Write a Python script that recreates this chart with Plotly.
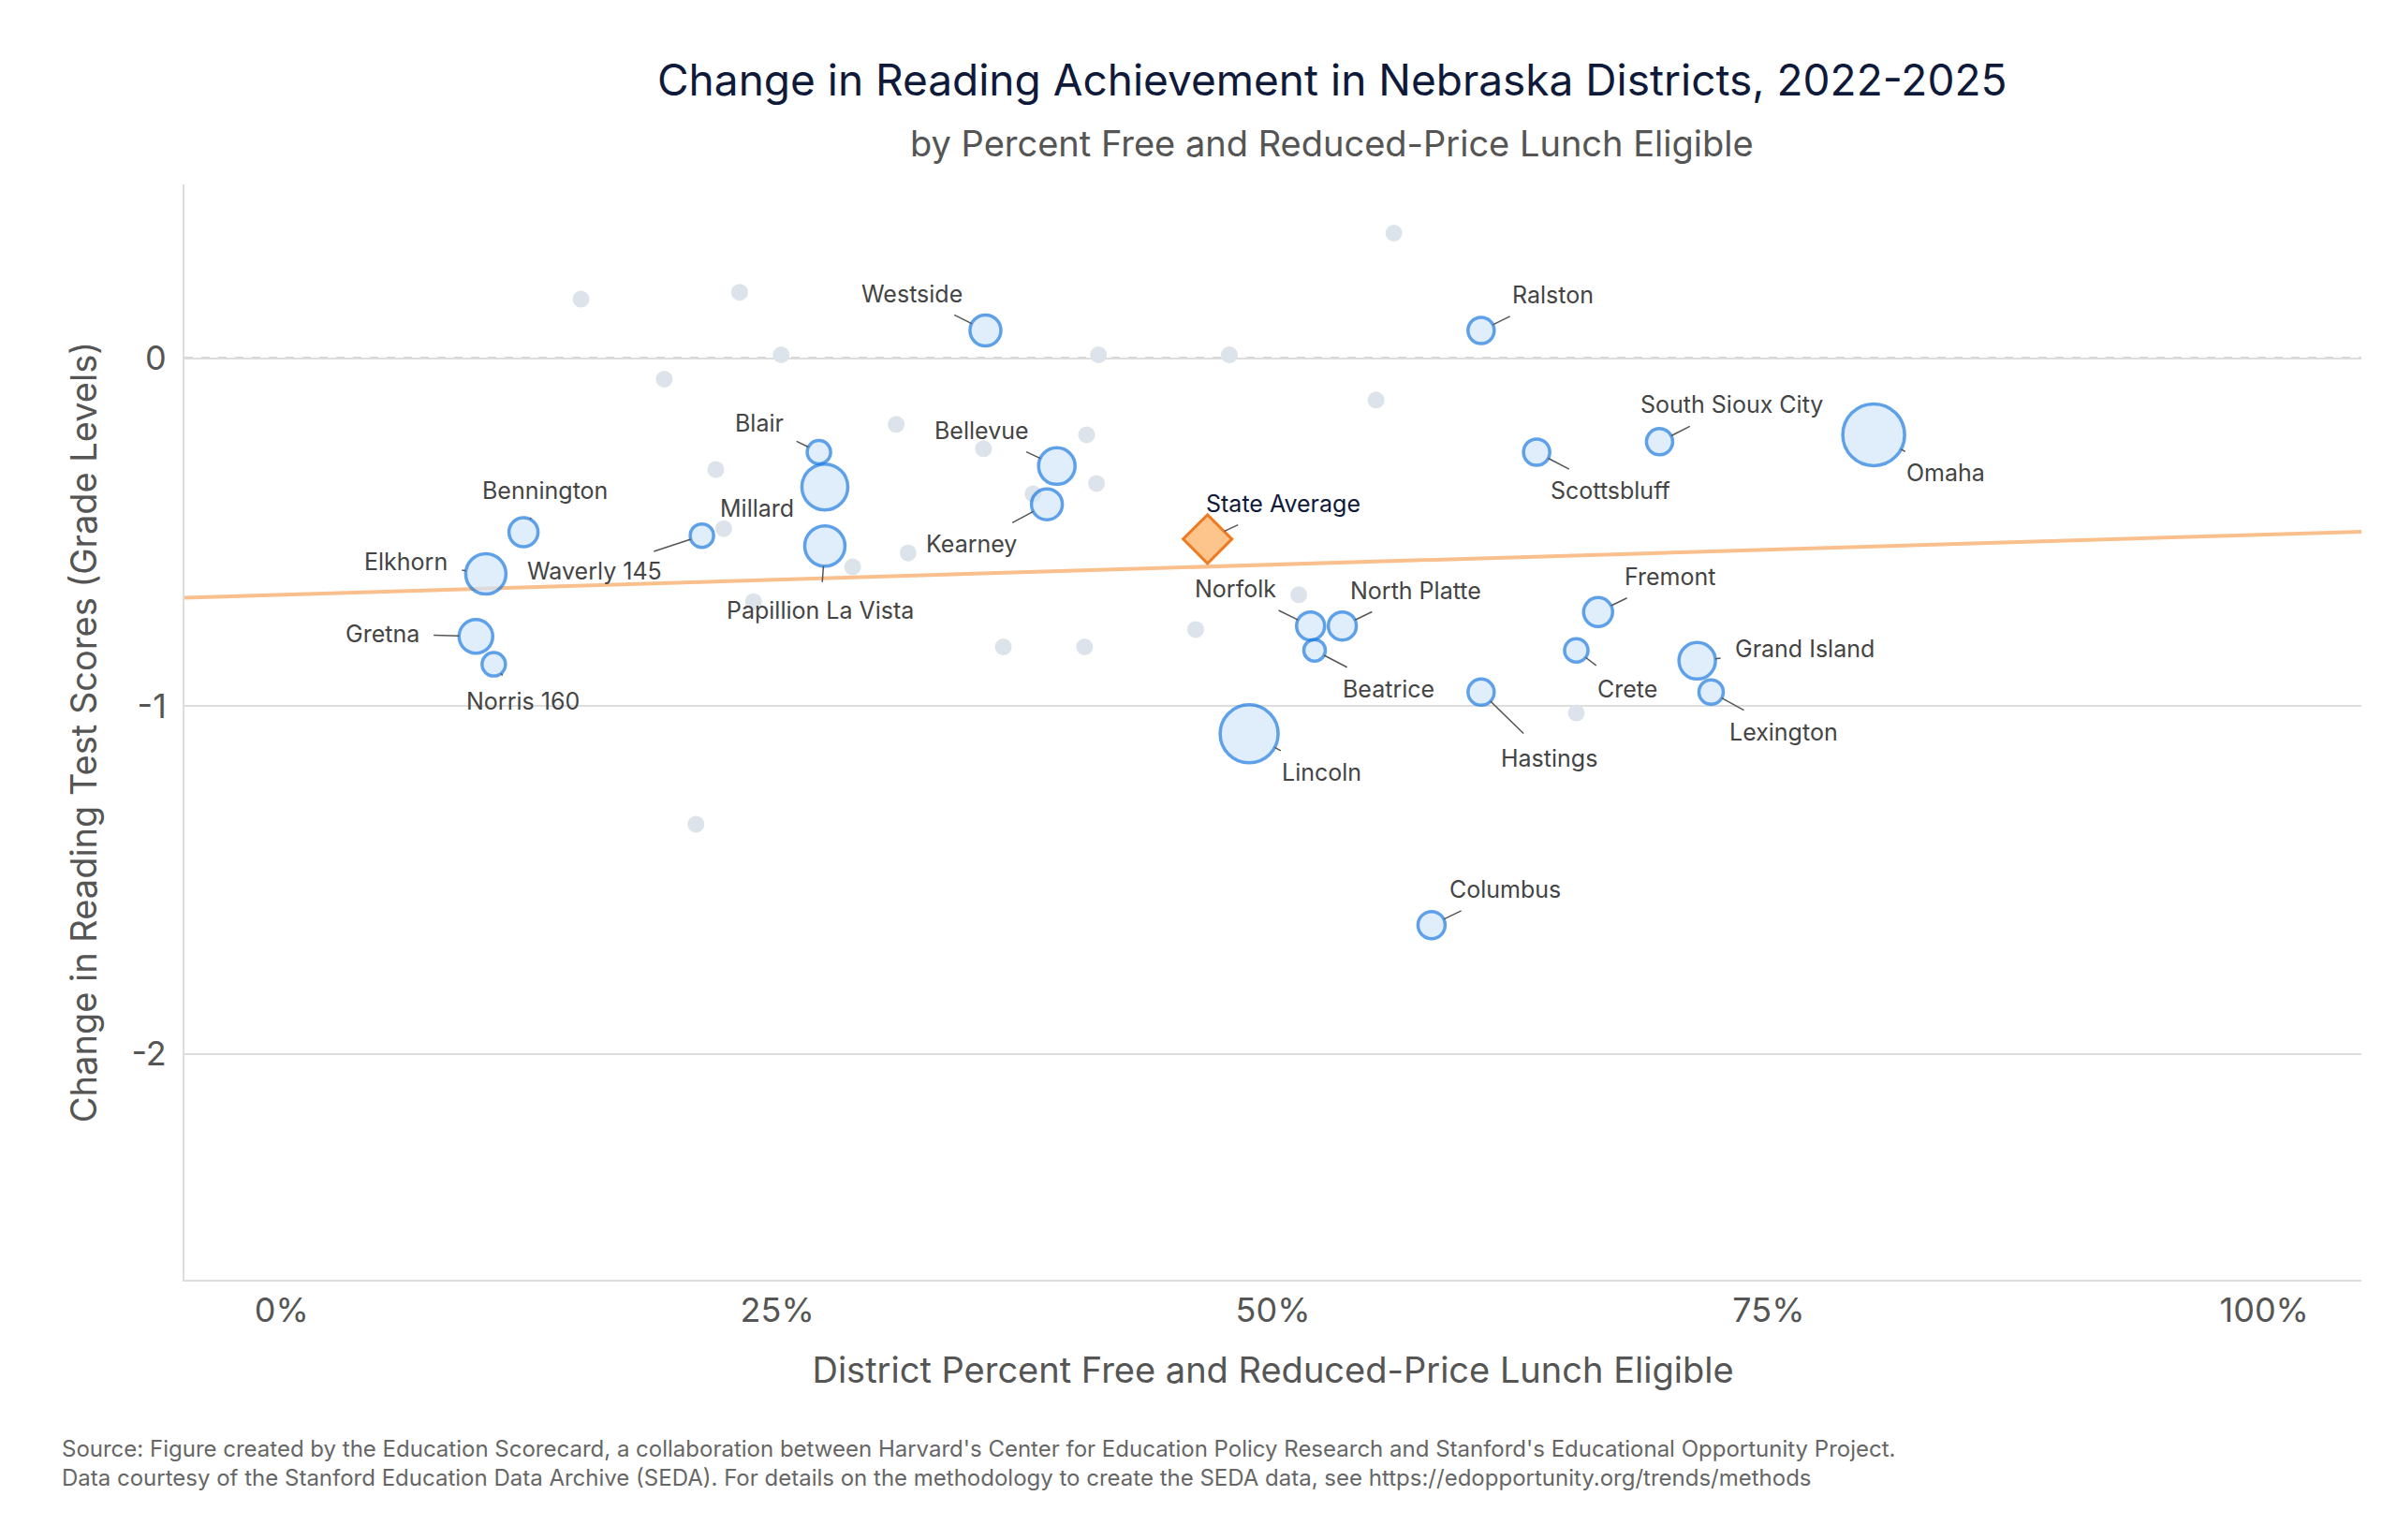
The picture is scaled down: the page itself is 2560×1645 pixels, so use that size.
import plotly.graph_objects as go

# other districts (grey)
other_frl = [15.1, 23.1, 25.2, 19.3, 41.2, 47.8, 56.1, 55.2, 31.0, 40.6, 35.4, 21.9,
             41.1, 37.9, 22.3, 31.6, 28.8, 23.8, 36.4, 40.5, 46.1, 51.3, 65.3, 20.9]
other_change = [0.17, 0.19, 0.01, -0.06, 0.01, 0.01, 0.36, -0.12, -0.19, -0.22, -0.26, -0.32,
                -0.36, -0.39, -0.49, -0.56, -0.60, -0.70, -0.83, -0.83, -0.78, -0.68, -1.02, -1.34]

# named districts
names = ["Westside", "Ralston", "Blair", "Millard", "Bellevue", "Kearney", "Bennington",
         "Waverly 145", "Papillion La Vista", "Elkhorn", "Gretna", "Norris 160", "Scottsbluff",
         "South Sioux City", "Omaha", "Norfolk", "North Platte", "Beatrice", "Fremont", "Crete",
         "Grand Island", "Lexington", "Hastings", "Lincoln", "Columbus"]
frl = [35.5, 60.5, 27.1, 27.4, 39.1, 38.6, 12.2, 21.2, 27.4, 10.3, 9.8, 10.7, 63.3,
       69.5, 80.3, 51.9, 53.5, 52.1, 66.4, 65.3, 71.4, 72.1, 60.5, 48.8, 58.0]
change = [0.08, 0.08, -0.27, -0.37, -0.31, -0.42, -0.50, -0.51, -0.54, -0.62, -0.80, -0.88, -0.27,
          -0.24, -0.22, -0.77, -0.77, -0.84, -0.73, -0.84, -0.87, -0.96, -0.96, -1.08, -1.63]
enroll_size = [33, 28, 25, 49, 39, 33, 31, 25, 43, 43, 36, 25, 28,
               28, 66, 30, 30, 23, 31, 25, 39, 26, 28, 62, 29]

state_frl = [46.7]
state_change = [-0.52]

trend_x = [-5, 105]
trend_intercept = -0.68
trend_slope = 0.00173

# label offsets (display px, scaled below)
offsets = {
    "Westside": (-48, -24), "Ralston": (47, -23), "Blair": (-39, -19), "Millard": (-44, 14),
    "Bellevue": (-49, -23), "Kearney": (-49, 26), "Bennington": (14, -27), "Waverly 145": (-70, 23),
    "Papillion La Vista": (-3, 42), "Elkhorn": (-52, -8), "Gretna": (-61, -2), "Norris 160": (19, 24),
    "Scottsbluff": (48, 25), "South Sioux City": (47, -24), "Omaha": (47, 25), "Norfolk": (-49, -24),
    "North Platte": (48, -23), "Beatrice": (48, 25), "Fremont": (47, -23), "Crete": (33, 25),
    "Grand Island": (70, -8), "Lexington": (47, 26), "Hastings": (44, 43), "Lincoln": (47, 25),
    "Columbus": (48, -23),
}
S = 1.641
FONT = "Inter"

fig = go.Figure()
fig.add_trace(go.Scatter(x=other_frl, y=other_change, mode="markers",
                         marker=dict(size=18, color="#dde3ea", line=dict(width=0)), hoverinfo="skip"))
fig.add_trace(go.Scatter(x=trend_x, y=[trend_intercept + trend_slope * v for v in trend_x], mode="lines",
                         line=dict(color="#f9c08e", width=4), hoverinfo="skip"))
fig.add_trace(go.Scatter(x=frl, y=change, mode="markers", text=names,
                         marker=dict(size=enroll_size, color="#d3e6fa", line=dict(color="#1b7ae0", width=3.5))))
fig.add_trace(go.Scatter(x=state_frl, y=state_change, mode="markers",
                         marker=dict(symbol="diamond", size=40, color="#fdc48c",
                                     line=dict(color="#ee7b22", width=3))))

for n, x, y, s in zip(names, frl, change, enroll_size):
    dx, dy = offsets[n]
    fig.add_annotation(x=x, y=y, text=n, ax=dx * S, ay=dy * S, showarrow=True, arrowhead=0,
                       arrowwidth=1.5, arrowcolor="#555", standoff=s / 2, startstandoff=14,
                       font=dict(family=FONT, size=25, color="#444"))
fig.add_annotation(x=state_frl[0], y=state_change[0], text="State Average", ax=49 * S, ay=-23 * S,
                   showarrow=True, arrowhead=0, arrowwidth=1.5, arrowcolor="#555", standoff=20,
                   startstandoff=14, font=dict(family=FONT, size=25, color="#0f1a3a"))

fig.add_hline(y=0, line=dict(color="#aaaaaa", width=2.5, dash="dash"), layer="below")

fig.add_annotation(xref="paper", yref="paper", x=0.527, y=1.096, xanchor="center", yanchor="middle",
                   showarrow=False, text="Change in Reading Achievement in Nebraska Districts, 2022-2025",
                   font=dict(family=FONT, size=46, color="#0f1a3a"))
fig.add_annotation(xref="paper", yref="paper", x=0.527, y=1.0376, xanchor="center", yanchor="middle",
                   showarrow=False, text="by Percent Free and Reduced-Price Lunch Eligible",
                   font=dict(family=FONT, size=38, color="#555"))

fig.add_annotation(xref="paper", yref="paper", x=-0.057, y=-0.14, xanchor="left", yanchor="top",
                   align="left", showarrow=False,
                   text="Source: Figure created by the Education Scorecard, a collaboration between Harvard's Center for Education Policy Research and Stanford's Educational Opportunity Project.<br>"
                        "Data courtesy of the Stanford Education Data Archive (SEDA). For details on the methodology to create the SEDA data, see https://edopportunity.org/trends/methods",
                   font=dict(family=FONT, size=24, color="#666"))

fig.update_layout(
    width=2560, height=1645, showlegend=False,
    plot_bgcolor="white", paper_bgcolor="white",
    margin=dict(l=189, r=46, t=189, b=286),
    xaxis=dict(range=[-4.9, 104.9], tickvals=[0, 25, 50, 75, 100],
               ticktext=["0%", "25%", "50%", "75%", "100%"], showgrid=False, zeroline=False,
               showline=True, linecolor="#dddddd", linewidth=2,
               tickfont=dict(family=FONT, size=36, color="#555"),
               title=dict(text="District Percent Free and Reduced-Price Lunch Eligible", standoff=30,
                          font=dict(family=FONT, size=38, color="#555"))),
    yaxis=dict(range=[-2.65, 0.5], tickvals=[0, -1, -2], ticktext=["0", "-1", "-2"],
               showgrid=True, gridcolor="#dddddd", gridwidth=2, zeroline=False,
               showline=True, linecolor="#dddddd", linewidth=2,
               tickfont=dict(family=FONT, size=36, color="#555"), ticks="", ticklabelstandoff=10,
               title=dict(text="Change in Reading Test Scores (Grade Levels)", standoff=25,
                          font=dict(family=FONT, size=38, color="#555"))),
)
fig.write_html("out.html")
